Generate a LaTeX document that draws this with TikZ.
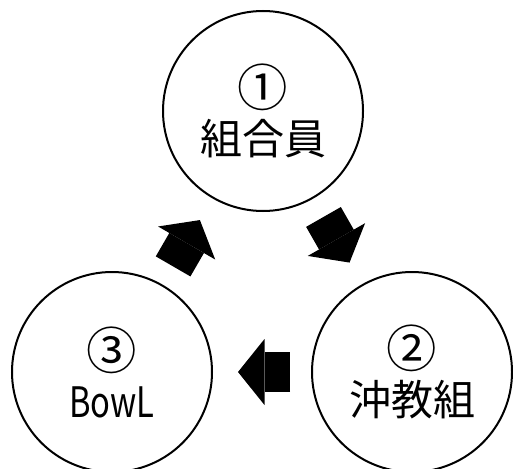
\documentclass[tikz,border=0pt]{standalone}
\usepackage{fontspec}
\setmainfont{Noto Sans CJK JP}
\usetikzlibrary{arrows.meta}
\newcommand{\circnum}[1]{\raisebox{-3pt}{\scalebox{1.2}{#1}}}

\begin{document}
\begin{tikzpicture}[x=1pt,y=-1pt]
        \tikzset{vertex/.style = {shape=circle,draw,line width=2pt,minimum size=200pt,inner sep=0pt,align=center,font=\fontsize{42}{51}\selectfont}}
        \tikzset{edge/.style = {line width=40pt,-{Triangle[width=66pt,length=26.5pt,line width=0pt]},shorten <=21pt,shorten >=25pt}}
        \clip (0,0) rectangle (513,468);
        % vertices
        \node[vertex] (1) at (263,111) {\circnum{①}\\組合員};
        \node[vertex] (2) at (412,372) {\circnum{②}\\沖教組};
        \node[vertex] (3) at (112,372) {\circnum{③}\\\scalebox{0.78}[1]{BowL}};
        %edges
        \draw[edge] (1) to (2);
        \draw[edge] (2) to (3);
        \draw[edge] (3) to (1);
\end{tikzpicture}
\end{document}
